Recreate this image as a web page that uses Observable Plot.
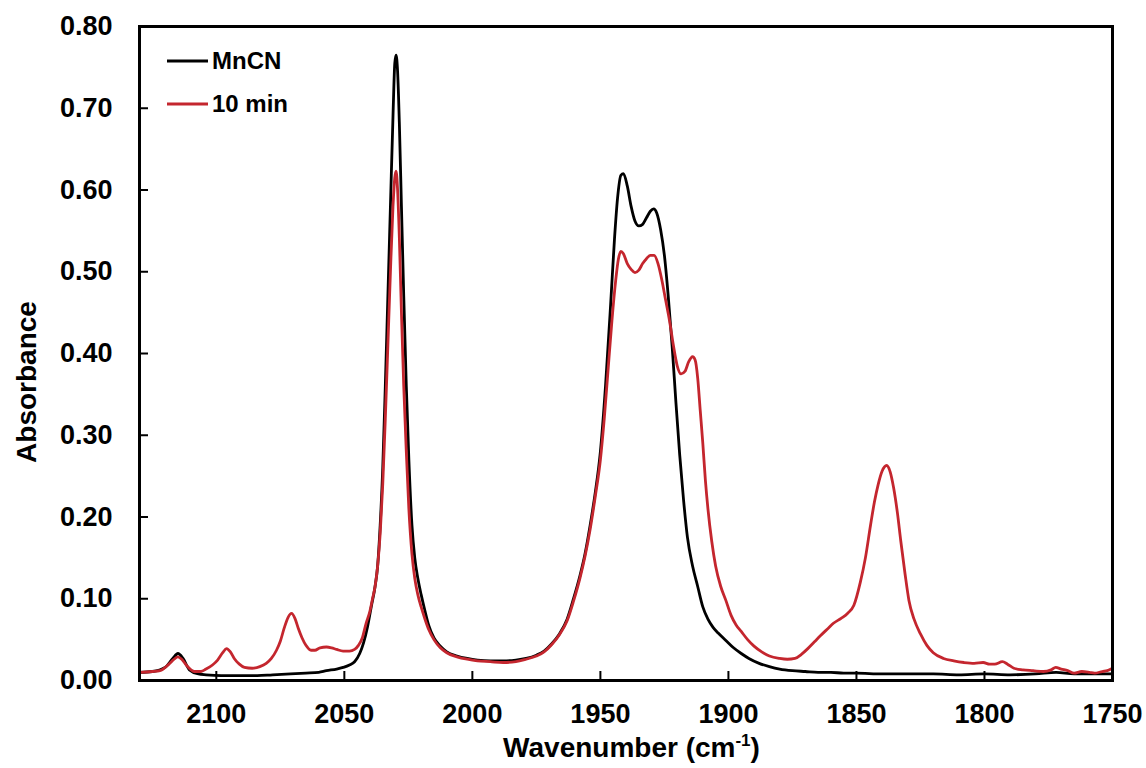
<!DOCTYPE html>
<html>
<head>
<meta charset="utf-8">
<script src="https://cdn.jsdelivr.net/npm/d3@7"></script>
<script src="https://cdn.jsdelivr.net/npm/@observablehq/plot@0.6"></script>
<style>
  html, body { margin: 0; padding: 0; background: #ffffff; }
  #chart { width: 1146px; height: 768px; }
</style>
</head>
<body>
<div id="chart"></div>
<script>
// ---- Data ----
const seriesNames = ["MnCN", "10 min"];
const seriesColors = ["#000000", "#c4262e"];

const xTicks = [2100, 2050, 2000, 1950, 1900, 1850, 1800, 1750];
const yTicks = [0, 0.1, 0.2, 0.3, 0.4, 0.5, 0.6, 0.7, 0.8];

const wnMnCN = [2130, 2125, 2120, 2117, 2115, 2113, 2110.5, 2107, 2104, 2098, 2091, 2084, 2078, 2071, 2065, 2060, 2057, 2053, 2050.5, 2048, 2046, 2044, 2042.5, 2041, 2039.5, 2038, 2037, 2036, 2035, 2034, 2033, 2032, 2031, 2030.3, 2029.8, 2029.2, 2028.5, 2027.7, 2026.8, 2025.8, 2024.8, 2023.6, 2022.5, 2021.3, 2020, 2018.5, 2017, 2015, 2012.5, 2010, 2006, 2002, 1998, 1993, 1988, 1983, 1979, 1975, 1972, 1969, 1966, 1963, 1960.5, 1958, 1956, 1954, 1952, 1950, 1948, 1946, 1944.5, 1943.3, 1942, 1941, 1939.5, 1938, 1936.5, 1935, 1933.5, 1932, 1930.5, 1929.2, 1928, 1926.5, 1925, 1923.5, 1922, 1920.5, 1919, 1917.5, 1916, 1914, 1912, 1910, 1908, 1906, 1904, 1901, 1898, 1895, 1892, 1888, 1884, 1880, 1875, 1870, 1865, 1860, 1855, 1850, 1840, 1830, 1820, 1810, 1800, 1790, 1780, 1772, 1765, 1758, 1750];
const absMnCN = [0.010, 0.011, 0.016, 0.027, 0.033, 0.027, 0.013, 0.008, 0.007, 0.006, 0.006, 0.006, 0.007, 0.008, 0.009, 0.010, 0.012, 0.014, 0.016, 0.019, 0.023, 0.033, 0.046, 0.065, 0.090, 0.115, 0.140, 0.190, 0.260, 0.360, 0.470, 0.580, 0.690, 0.755, 0.765, 0.745, 0.680, 0.580, 0.470, 0.360, 0.270, 0.190, 0.150, 0.125, 0.105, 0.085, 0.067, 0.052, 0.042, 0.035, 0.030, 0.027, 0.025, 0.024, 0.024, 0.025, 0.027, 0.031, 0.036, 0.045, 0.057, 0.075, 0.100, 0.128, 0.155, 0.190, 0.230, 0.280, 0.360, 0.460, 0.540, 0.590, 0.618, 0.620, 0.605, 0.580, 0.562, 0.556, 0.558, 0.566, 0.574, 0.577, 0.572, 0.552, 0.520, 0.470, 0.410, 0.340, 0.275, 0.220, 0.175, 0.140, 0.115, 0.090, 0.075, 0.065, 0.058, 0.049, 0.040, 0.033, 0.027, 0.021, 0.017, 0.014, 0.012, 0.011, 0.010, 0.010, 0.009, 0.009, 0.008, 0.008, 0.008, 0.007, 0.008, 0.007, 0.008, 0.010, 0.008, 0.008, 0.008];

const wn10min = [2130, 2125, 2122, 2118.5, 2116.5, 2115, 2113.5, 2111.5, 2108.5, 2106, 2104, 2101.5, 2099.5, 2097.5, 2096, 2094.5, 2093, 2091, 2089, 2086, 2083, 2080.5, 2078.5, 2076.5, 2075, 2073.5, 2072, 2070.6, 2069.3, 2068, 2066.5, 2065, 2063, 2061.5, 2059.5, 2057, 2055, 2053, 2050.5, 2048, 2046, 2044.5, 2043, 2041.5, 2040, 2039, 2038, 2037, 2036, 2035, 2034, 2033, 2032, 2031, 2030.3, 2029.8, 2029.2, 2028.5, 2027.7, 2026.8, 2025.8, 2024.8, 2023.6, 2022.5, 2021.3, 2020, 2018.5, 2017, 2015, 2012.5, 2010, 2006, 2002, 1998, 1993, 1988, 1983, 1979, 1975, 1972, 1969, 1966, 1963, 1960.5, 1958, 1956, 1954, 1952, 1950, 1948.5, 1947, 1945.5, 1944, 1943, 1942, 1941, 1939.5, 1938, 1936.5, 1935, 1933.5, 1932, 1930.5, 1929, 1927.5, 1926, 1924.5, 1923, 1921.5, 1920, 1918.5, 1917, 1915.5, 1914, 1913, 1912, 1911, 1910, 1909, 1908, 1906.5, 1905, 1903, 1901, 1899, 1897, 1895, 1892.5, 1890, 1887, 1884, 1880, 1877, 1874, 1871.5, 1869, 1866.5, 1864, 1861, 1859, 1856, 1853.5, 1851, 1848.5, 1846.5, 1844.5, 1843, 1841.5, 1840, 1838.2, 1836.8, 1835.5, 1834, 1832.7, 1831, 1829.5, 1827.5, 1825, 1822.5, 1820, 1816, 1812, 1808, 1804, 1800.5, 1798, 1796, 1793, 1791, 1788.5, 1785, 1781, 1777, 1774, 1772.2, 1770, 1767.5, 1765, 1762, 1759, 1757, 1754, 1752, 1750];
const abs10min = [0.010, 0.011, 0.012, 0.020, 0.026, 0.029, 0.026, 0.018, 0.011, 0.011, 0.014, 0.019, 0.025, 0.034, 0.039, 0.035, 0.027, 0.020, 0.016, 0.015, 0.017, 0.021, 0.027, 0.037, 0.048, 0.064, 0.077, 0.082, 0.076, 0.064, 0.052, 0.043, 0.037, 0.037, 0.040, 0.041, 0.040, 0.038, 0.036, 0.036, 0.038, 0.043, 0.052, 0.070, 0.085, 0.100, 0.115, 0.140, 0.180, 0.240, 0.320, 0.410, 0.500, 0.580, 0.615, 0.623, 0.600, 0.540, 0.450, 0.360, 0.280, 0.210, 0.155, 0.125, 0.105, 0.090, 0.075, 0.062, 0.050, 0.040, 0.034, 0.029, 0.026, 0.024, 0.023, 0.022, 0.023, 0.026, 0.030, 0.035, 0.044, 0.056, 0.073, 0.097, 0.125, 0.152, 0.185, 0.225, 0.270, 0.320, 0.380, 0.440, 0.490, 0.515, 0.525, 0.522, 0.510, 0.503, 0.499, 0.502, 0.510, 0.516, 0.520, 0.520, 0.510, 0.490, 0.465, 0.440, 0.410, 0.385, 0.375, 0.378, 0.390, 0.396, 0.392, 0.370, 0.330, 0.290, 0.245, 0.210, 0.170, 0.140, 0.115, 0.098, 0.080, 0.068, 0.060, 0.050, 0.042, 0.035, 0.030, 0.027, 0.026, 0.027, 0.032, 0.039, 0.047, 0.055, 0.064, 0.070, 0.076, 0.082, 0.092, 0.120, 0.150, 0.190, 0.218, 0.240, 0.256, 0.263, 0.255, 0.236, 0.205, 0.171, 0.130, 0.098, 0.075, 0.057, 0.043, 0.034, 0.027, 0.024, 0.022, 0.021, 0.022, 0.020, 0.020, 0.023, 0.020, 0.015, 0.013, 0.012, 0.011, 0.013, 0.016, 0.014, 0.012, 0.009, 0.011, 0.010, 0.009, 0.011, 0.012, 0.015];

// ---- Build tables for the library ----
const rowsMnCN = wnMnCN.map((w, i) => ({wn: w, abs: absMnCN[i], series: seriesNames[0]}));
const rows10min = wn10min.map((w, i) => ({wn: w, abs: abs10min[i], series: seriesNames[1]}));

const FONT = "'Liberation Sans', Arial, Helvetica, sans-serif";
const M = {left: 139, right: 34, top: 26, bottom: 88};
const W = 1146, H = 768;

const chart = Plot.plot({
  width: W,
  height: H,
  marginLeft: M.left,
  marginRight: M.right,
  marginTop: M.top,
  marginBottom: M.bottom,
  style: {fontFamily: FONT, fontSize: "27px", fontWeight: "bold", color: "#000", background: "#fff", overflow: "visible"},
  x: {domain: [2130, 1750]},
  y: {domain: [0, 0.8]},
  color: {domain: seriesNames, range: seriesColors},
  marks: [
    // tick labels
    Plot.axisX({ticks: xTicks, tickSize: 0, tickPadding: 23, label: null, tickFormat: d => String(d)}),
    Plot.axisY({ticks: yTicks, tickSize: 0, tickPadding: 27, label: null, tickFormat: d3.format(".2f")}),
    // inward tick marks
    Plot.axisX({ticks: xTicks, tickSize: 9, dy: -9, strokeWidth: 2, label: null, tickFormat: () => ""}),
    Plot.axisY({ticks: yTicks, tickSize: 9, dx: 9, strokeWidth: 2, label: null, tickFormat: () => ""}),
    // spectra
    Plot.line(rowsMnCN, {x: "wn", y: "abs", stroke: "series", strokeWidth: 2.8, curve: "monotone-x"}),
    Plot.line(rows10min, {x: "wn", y: "abs", stroke: "series", strokeWidth: 2.8, curve: "monotone-x"}),
    Plot.frame({stroke: "#000", strokeWidth: 3})
  ]
});

document.getElementById("chart").appendChild(chart);

// ---- Axis titles and legend (chrome) ----
const svg = d3.select(chart);
const xt = svg.append("text")
  .attr("x", (M.left + (W - M.right)) / 2 + 6)
  .attr("y", 757)
  .attr("text-anchor", "middle")
  .style("font-family", FONT).style("font-weight", "bold").style("font-size", "28px")
  .attr("fill", "#000");
xt.append("tspan").text("Wavenumber (cm");
xt.append("tspan").attr("dy", -11).style("font-size", "17px").text("-1");
xt.append("tspan").attr("dy", 11).text(")");

svg.append("text")
  .attr("transform", `translate(36, 382) rotate(-90)`)
  .attr("text-anchor", "middle")
  .style("font-family", FONT).style("font-weight", "bold").style("font-size", "28px")
  .attr("fill", "#000")
  .text("Absorbance");

const leg = svg.append("g").selectAll("g").data(seriesNames).join("g")
  .attr("transform", (d, i) => `translate(167, ${61 + i * 43})`);
leg.append("line").attr("x1", 0).attr("x2", 41).attr("y1", 0).attr("y2", 0)
  .attr("stroke", (d, i) => seriesColors[i]).attr("stroke-width", 2.8);
leg.append("text").attr("x", 45).attr("y", 0).attr("dy", "0.35em")
  .attr("text-anchor", "start")
  .style("font-family", FONT).style("font-weight", "bold").style("font-size", "24px")
  .attr("fill", "#000").text(d => d);
</script>
</body>
</html>
